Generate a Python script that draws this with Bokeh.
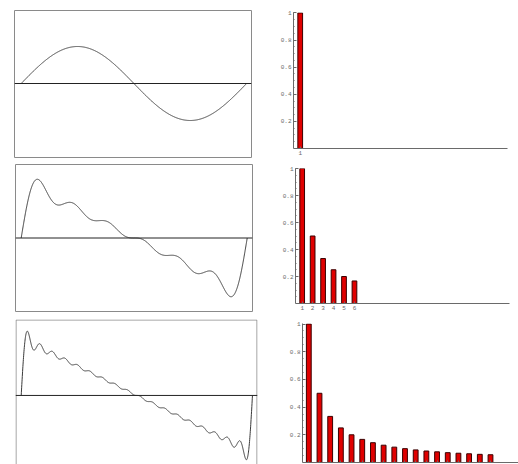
import numpy as np
from bokeh.plotting import figure
from bokeh.layouts import row, column
from bokeh.models import Range1d, Span, FixedTicker, ColumnDataSource
from bokeh.embed import file_html
from bokeh.resources import INLINE

# Fourier coefficients (bar heights)
harmonics_1 = [1]
coeffs_1 = [1.0]
harmonics_2 = [1, 2, 3, 4, 5, 6]
coeffs_2 = [1.0, 0.5, 0.333, 0.25, 0.2, 0.167]
harmonics_3 = list(range(1, 19))
coeffs_3 = [1.0, 0.5, 0.333, 0.25, 0.2, 0.167, 0.143, 0.125, 0.111, 0.1,
            0.091, 0.083, 0.077, 0.071, 0.067, 0.063, 0.059, 0.056]
y_tick_values = [0.2, 0.4, 0.6, 0.8, 1.0]
y_tick_labels = {0.2: "0.2", 0.4: "0.4", 0.6: "0.6", 0.8: "0.8", 1.0: "1"}

FRAME = "#8a8a8a"
CURVE = "#3a3a3a"


def partial_sum(harm, coef, x):
    y = np.zeros_like(x)
    for k, c in zip(harm, coef):
        y += c * np.sin(k * x)
    return y


def curve_fig(harm, coef, w, h, bl, br, bt, bb, xr, yr, outline=True):
    p = figure(width=w, height=h, x_axis_type=None, y_axis_type=None,
               toolbar_location=None, output_backend="svg",
               x_range=Range1d(*xr), y_range=Range1d(*yr),
               min_border_left=bl, min_border_right=br,
               min_border_top=bt, min_border_bottom=bb)
    p.background_fill_color = "white"
    p.border_fill_color = "white"
    if outline:
        p.outline_line_color = FRAME
        p.outline_line_width = 1
    else:
        p.outline_line_color = None
    x = np.linspace(0, 2 * np.pi, 1500)
    y = partial_sum(harm, coef, x)
    p.add_layout(Span(location=0, dimension="width", line_color="#222222", line_width=1))
    p.line(x, y, line_color=CURVE, line_width=1)
    return p


def bar_fig(harm, coef, w, h, bl, br, bt, bb, xr, yr, show_xlabels=True):
    p = figure(width=w, height=h, toolbar_location=None, output_backend="svg",
               x_range=Range1d(*xr), y_range=Range1d(*yr),
               min_border_left=bl, min_border_right=br,
               min_border_top=bt, min_border_bottom=bb)
    p.outline_line_color = None
    p.grid.visible = False
    src = ColumnDataSource(dict(x=harm, top=coef))
    p.vbar(x="x", top="top", bottom=0, width=0.45, source=src,
           fill_color="#e00000", line_color="#3a0000", line_width=1)
    ya = p.yaxis[0]
    ya.ticker = FixedTicker(ticks=y_tick_values,
                            minor_ticks=[round(0.05 * i, 2) for i in range(1, 21)])
    ya.major_label_overrides = y_tick_labels
    ya.major_tick_in = 3
    ya.major_tick_out = 0
    ya.minor_tick_in = 1
    ya.minor_tick_out = 0
    ya.axis_line_color = "#6a6a6a"
    ya.major_tick_line_color = "#6a6a6a"
    ya.minor_tick_line_color = "#6a6a6a"
    ya.major_label_text_font = "Liberation Mono"
    ya.major_label_text_font_size = "6px"
    ya.major_label_text_color = "#6a6a6a"
    ya.major_label_standoff = 2
    xa = p.xaxis[0]
    xa.ticker = FixedTicker(ticks=harm, minor_ticks=[])
    xa.major_tick_in = 2
    xa.major_tick_out = 0
    xa.axis_line_color = "#6a6a6a"
    xa.major_tick_line_color = "#6a6a6a"
    xa.major_label_text_font = "Liberation Mono"
    xa.major_label_text_color = "#6a6a6a"
    if show_xlabels:
        xa.major_label_text_font_size = "6px"
        xa.major_label_standoff = 2
    else:
        xa.major_label_text_font_size = "1px"
        xa.major_label_text_alpha = 0
        xa.major_label_standoff = 0
    return p


# left column (Fourier partial sums)
l1 = curve_fig(harmonics_1, coeffs_1, 270, 160, 14, 19, 10, 3,
               (-0.187, 6.42), (-2.0, 1.973))
l2 = curve_fig(harmonics_2, coeffs_2, 270, 155, 15, 18, 4, 4,
               (-0.158, 6.43), (-2.03, 2.03))
l3 = curve_fig(harmonics_3, coeffs_3, 270, 149, 15, 13, 4, 0,
               (-0.155, 6.42), (-1.9, 2.09), outline=False)
# frame of the cropped third panel (top, left, right edges only)
ex = 0.5 / 36.8
ey = 0.5 / 36.4
l3.line([-0.155 + ex, -0.155 + ex, 6.42 - ex, 6.42 - ex],
        [-1.9, 2.09 - ey, 2.09 - ey, -1.9], line_color=FRAME, line_width=1)

# right column (coefficient bar charts)
r1 = bar_fig(harmonics_1, coeffs_1, 248, 160, 23, 11, 12, 12,
             (0.36, 20.74), (0, 1.003))
r2 = bar_fig(harmonics_2, coeffs_2, 248, 155, 25, 9, 8, 12,
             (0.36, 20.83), (0, 1.0))
r3 = bar_fig(harmonics_3, coeffs_3, 248, 149, 32, 0, 8, 2,
             (0.41, 20.62), (0, 1.004), show_xlabels=False)

# wrap each figure on its own so frames are not aligned across the column
left = column(row(l1), row(l2), row(l3), spacing=0)
right = column(row(r1), row(r2), row(r3), spacing=0)
layout = row(left, right, spacing=0)

open("out.html", "w").write(file_html(layout, INLINE))
